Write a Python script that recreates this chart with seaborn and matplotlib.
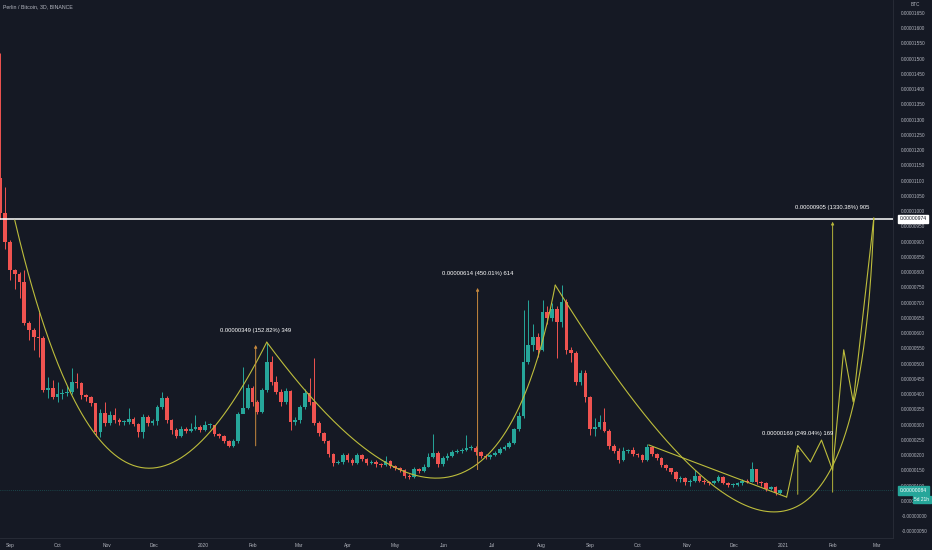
import numpy as np
import pandas as pd
import seaborn as sns
import matplotlib.pyplot as plt
import matplotlib.dates as mdates

# PERL/BTC 3D candles, prices in satoshi (1e-8 BTC)
first_day = '2019-08-26'
first_open = 1108
closes = [994, 899, 807, 794, 768, 633, 610, 587, 584, 413,
          420, 390, 400, 402, 407, 440, 436, 397, 390, 370,
          276, 338, 305, 331, 315, 308, 308, 318, 302, 276,
          325, 305, 311, 358, 387, 315, 282, 262, 285, 279,
          285, 292, 282, 298, 298, 269, 262, 246, 230, 246,
          335, 354, 420, 374, 341, 413, 505, 440, 407, 374,
          410, 308, 315, 358, 403, 374, 305, 272, 246, 203,
          174, 177, 200, 184, 174, 200, 187, 174, 177, 170,
          168, 181, 164, 158, 151, 132, 128, 154, 148, 162,
          195, 208, 171, 190, 198, 210, 214, 216, 224, 224,
          211, 198, 195, 200, 207, 220, 227, 240, 284, 329,
          506, 561, 588, 544, 670, 648, 678, 635, 701, 544,
          534, 441, 470, 389, 284, 293, 307, 280, 230, 214,
          184, 214, 216, 203, 200, 184, 227, 203, 189, 167,
          156, 145, 121, 125, 112, 115, 132, 116, 112, 108,
          114, 127, 109, 102, 102, 107, 116, 113, 153, 112,
          107, 88, 96, 74, 84]
highs = [1519, 1079, 905, 810, 800, 808, 640, 615, 668, 590,
         456, 446, 440, 415, 425, 486, 470, 440, 400, 395,
         372, 350, 374, 345, 354, 322, 316, 354, 325, 305,
         335, 330, 318, 365, 407, 392, 318, 290, 295, 292,
         305, 330, 300, 310, 305, 300, 272, 265, 250, 252,
         340, 490, 432, 425, 380, 420, 568, 525, 460, 415,
         420, 412, 325, 365, 415, 452, 518, 310, 275, 250,
         205, 185, 205, 205, 190, 206, 202, 190, 185, 182,
         175, 198, 184, 166, 160, 153, 138, 160, 158, 170,
         205, 270, 212, 196, 205, 216, 220, 222, 266, 232,
         228, 214, 202, 204, 212, 225, 232, 246, 290, 340,
         675, 708, 630, 600, 708, 690, 700, 690, 758, 712,
         555, 540, 480, 480, 392, 320, 330, 354, 285, 236,
         222, 225, 220, 226, 208, 203, 236, 230, 205, 192,
         170, 158, 148, 130, 128, 120, 150, 135, 120, 116,
         118, 135, 130, 112, 107, 110, 122, 120, 178, 155,
         116, 110, 100, 98, 90]
lows = [975, 875, 775, 745, 715, 625, 577, 545, 522, 405,
        387, 382, 375, 385, 395, 400, 420, 385, 378, 360,
        262, 260, 295, 298, 305, 298, 300, 302, 295, 259,
        255, 295, 300, 300, 350, 305, 270, 255, 258, 272,
        274, 282, 275, 278, 290, 262, 255, 238, 225, 226,
        240, 340, 350, 360, 335, 338, 405, 430, 400, 360,
        368, 282, 300, 305, 350, 365, 298, 262, 240, 195,
        165, 170, 172, 178, 168, 170, 180, 168, 170, 162,
        160, 165, 158, 150, 145, 126, 120, 125, 142, 145,
        160, 190, 162, 165, 185, 192, 205, 208, 212, 215,
        200, 190, 186, 188, 198, 203, 215, 222, 235, 280,
        320, 500, 540, 520, 540, 630, 640, 518, 620, 530,
        505, 430, 430, 375, 265, 262, 285, 275, 220, 205,
        175, 180, 208, 198, 195, 178, 180, 198, 182, 160,
        150, 138, 115, 112, 102, 100, 110, 110, 106, 102,
        104, 110, 104, 96, 96, 98, 102, 108, 110, 106,
        100, 82, 84, 68, 72]

month_ticks = ['2019-09-01', '2019-10-01', '2019-11-01', '2019-12-01', '2020-01-01',
               '2020-02-01', '2020-03-01', '2020-04-01', '2020-05-01', '2020-06-01',
               '2020-07-01', '2020-08-01', '2020-09-01', '2020-10-01', '2020-11-01',
               '2020-12-01', '2021-01-01', '2021-02-01', '2021-03-01']
month_labels = ['Sep', 'Oct', 'Nov', 'Dec', '2020', 'Feb', 'Mar', 'Apr', 'May', 'Jun',
                'Jul', 'Aug', 'Sep', 'Oct', 'Nov', 'Dec', '2021', 'Feb', 'Mar']

# drawings on the chart: (date, price)
level_price = 974
last_price = 84
arcs = [[('2019-09-04', 970), ('2019-11-06', -423), ('2020-02-10', 570)],
        [('2020-02-10', 570), ('2020-06-28', -407), ('2020-08-10', 757)],
        [('2020-08-10', 757), ('2021-02-15', -833), ('2021-02-27', 977)]]
trend_dates = ['2020-10-08', '2021-01-03']
trend_prices = [233, 62]
zigzag_dates = ['2021-01-03', '2021-01-10', '2021-01-18', '2021-01-25', '2021-02-01']
zigzag_prices = [62, 231, 177, 249, 150]
zigzag2_dates = ['2021-02-01', '2021-02-08', '2021-02-14', '2021-02-27']
zigzag2_prices = [150, 545, 374, 977]
measures = [('2020-02-03', 221, 570, '0.00000349 (152.82%) 349'),
            ('2020-06-22', 143, 757, '0.00000614 (450.01%) 614'),
            ('2021-01-10', 62, 231, '0.00000169 (249.04%) 169'),
            ('2021-02-01', 69, 974, '0.00000905 (1330.38%) 905')]

bg = '#151924'
up_c, dn_c = '#26a69a', '#ef5350'
txt_c = '#b2b5be'
curve_c = '#bdbd3c'
font = 'Liberation Sans'

opens = [first_open] + closes[:-1]
df = pd.DataFrame({'date': pd.date_range(first_day, periods=len(closes), freq='3D'),
                   'open': opens, 'high': highs, 'low': lows, 'close': closes})
df['x'] = mdates.date2num(df['date'])
df['up'] = df['close'] >= df['open']
df['color'] = np.where(df['up'], up_c, dn_c)
df['bottom'] = df[['open', 'close']].min(axis=1)
df['height'] = (df['open'] - df['close']).abs().clip(lower=2.5)

sns.set_style('dark', rc={'axes.facecolor': bg, 'figure.facecolor': bg})
plt.rcParams['font.family'] = [font, 'DejaVu Sans']

fig = plt.figure(figsize=(9.32, 5.5), dpi=100)
ax = fig.add_axes([0, 12 / 550, 893 / 932, 538 / 550])

sep1 = mdates.date2num(pd.Timestamp('2019-09-01'))
ax.set_xlim(sep1 - 10 / 1.585, sep1 + 883 / 1.585)
ax.set_ylim(-72.1, 1691.8)

# candles
ax.vlines(df['x'], df['low'], df['high'], colors=df['color'], lw=0.7, zorder=2)
ax.bar(df['x'], df['height'], bottom=df['bottom'], width=2.3, color=df['color'],
       lw=0, zorder=3)

# horizontal level and current price line
ax.axhline(level_price, color='white', lw=1.1, zorder=4)
ax.axhline(last_price, color=up_c, lw=0.5, ls=(0, (1, 2)), alpha=0.6, zorder=1)

# curves
for p0, c, p2 in arcs:
    xs = mdates.date2num(pd.to_datetime([p0[0], c[0], p2[0]]))
    ys = [p0[1], c[1], p2[1]]
    t = np.linspace(0, 1, 200)
    bx = (1 - t) ** 2 * xs[0] + 2 * t * (1 - t) * xs[1] + t ** 2 * xs[2]
    by = (1 - t) ** 2 * ys[0] + 2 * t * (1 - t) * ys[1] + t ** 2 * ys[2]
    sns.lineplot(x=bx, y=by, sort=False, estimator=None, color=curve_c, lw=0.8, ax=ax, zorder=5)

for dd, pp in [(trend_dates, trend_prices), (zigzag_dates, zigzag_prices),
               (zigzag2_dates, zigzag2_prices)]:
    sns.lineplot(x=mdates.date2num(pd.to_datetime(dd)), y=pp, sort=False,
                 estimator=None, color=curve_c, lw=0.8, ax=ax, zorder=5)

# price range measurements
for i, (d, lo, hi, label) in enumerate(measures):
    xm = mdates.date2num(pd.Timestamp(d))
    col = '#c98a3e' if i < 2 else '#b5b53a'
    ax.annotate('', xy=(xm, hi), xytext=(xm, lo),
                arrowprops=dict(arrowstyle='-|>', color=col, lw=0.7, mutation_scale=4),
                zorder=6)
    ax.text(xm, hi + 30, label, color='white', fontsize=4.2, ha='center', va='bottom',
            zorder=7, clip_on=False)

# axes
ax.yaxis.tick_right()
yt = list(range(-50, 1651, 50))
ax.set_yticks(yt)
ax.set_yticklabels(['-0.00000050' if v < 0 else ('-0.00000000' if v == 0 else f'{v / 1e8:.8f}')
                    for v in yt])
ax.set_xticks(mdates.date2num(pd.to_datetime(month_ticks)))
ax.set_xticklabels(month_labels)
ax.tick_params(axis='y', length=0, pad=6, labelsize=3.4, labelcolor=txt_c)
ax.tick_params(axis='x', length=0, pad=3.5, labelsize=3.5, labelcolor=txt_c)
ax.grid(False)
for s in ['top', 'left']:
    ax.spines[s].set_visible(False)
for s in ['right', 'bottom']:
    ax.spines[s].set_color('#2a2e39')
    ax.spines[s].set_linewidth(0.6)

# axis labels / boxes
ytr = ax.get_yaxis_transform()
ax.text(1.0075, level_price, '0.00000974', transform=ytr, fontsize=3.6, color='#131722',
        va='center', ha='left', clip_on=False, zorder=8,
        bbox=dict(boxstyle='square,pad=0.3', fc='white', ec='white'))
ax.text(1.0075, last_price, '0.00000084', transform=ytr, fontsize=3.6, color='white',
        va='center', ha='left', clip_on=False, zorder=8,
        bbox=dict(boxstyle='square,pad=0.35', fc=up_c, ec=up_c))
ax.text(1.024, last_price - 30, '5d 21h', transform=ytr, fontsize=3.4, color='white',
        va='center', ha='left', clip_on=False, zorder=8,
        bbox=dict(boxstyle='square,pad=0.3', fc=up_c, ec=up_c))
fig.text(915 / 932, 1 - 5 / 550, 'BTC', fontsize=3.4, color=txt_c, ha='center', va='center')
fig.text(3 / 932, 1 - 7 / 550, 'Perlin / Bitcoin, 3D, BINANCE', fontsize=3.8, color=txt_c,
         ha='left', va='center')

fig.savefig('out.png', dpi=100, facecolor=bg)
